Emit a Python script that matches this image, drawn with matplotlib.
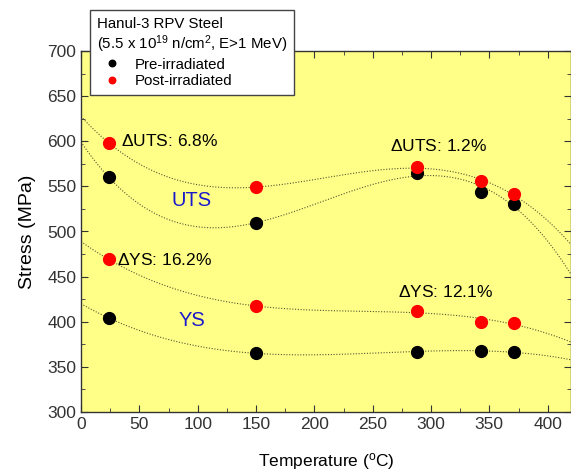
import numpy as np
import matplotlib
matplotlib.use("Agg")
import matplotlib.pyplot as plt
from matplotlib.ticker import MultipleLocator

plt.rcParams['font.family'] = ['Liberation Sans', 'DejaVu Sans']
plt.rcParams['mathtext.fontset'] = 'custom'
plt.rcParams['mathtext.rm'] = 'Liberation Sans'
plt.rcParams['mathtext.it'] = 'Liberation Sans'

## Data
temp = [24, 150, 288, 343, 371]
uts_pre = [560, 509, 565, 544, 531]
uts_post = [598, 549, 571, 556, 541]
ys_pre = [404, 365, 367, 368, 366]
ys_post = [469, 417, 412, 400, 399]

# cubic fits drawn as dotted guide lines
xfit = np.linspace(0, 420, 300)

fig = plt.figure(figsize=(5.71, 4.73), dpi=100)
ax = fig.add_axes([81 / 571, 1 - 412 / 473, 490 / 571, 361 / 473])
ax.set_facecolor('#ffff88')

for series in [uts_pre, uts_post, ys_pre, ys_post]:
    coef = np.polyfit(temp, series, 3)
    ax.plot(xfit, np.polyval(coef, xfit), linestyle=(0, (1, 1.5)), color='#555533', linewidth=0.8)

ax.plot(temp, uts_pre, 'o', color='black', markersize=8.5, label='Pre-irradiated')
ax.plot(temp, uts_post, 'o', color='red', markersize=8.5, label='Post-irradiated')
ax.plot(temp, ys_pre, 'o', color='black', markersize=8.5)
ax.plot(temp, ys_post, 'o', color='red', markersize=8.5)

# annotations
ax.text(34, 600, r'$\Delta$UTS: 6.8%', fontsize=12.5, va='center')
ax.text(265, 595, r'$\Delta$UTS: 1.2%', fontsize=12.5, va='center')
ax.text(31, 468, r'$\Delta$YS: 16.2%', fontsize=12.5, va='center')
ax.text(272, 433, r'$\Delta$YS: 12.1%', fontsize=12.5, va='center')
ax.text(95, 534, 'UTS', fontsize=14.5, color='#1a1acc', ha='center', va='center')
ax.text(95, 401, 'YS', fontsize=14.5, color='#1a1acc', ha='center', va='center')

ax.set_xlim(0, 420)
ax.set_ylim(300, 700)
ax.xaxis.set_major_locator(MultipleLocator(50))
ax.xaxis.set_minor_locator(MultipleLocator(25))
ax.yaxis.set_major_locator(MultipleLocator(50))
ax.yaxis.set_minor_locator(MultipleLocator(25))
ax.tick_params(which='both', direction='in', top=True, right=True, labelsize=12.5, colors='#333333')
ax.tick_params(which='major', length=5)
ax.tick_params(which='minor', length=3)
for s in ax.spines.values():
    s.set_color('#333333')
    s.set_linewidth(1)

ax.set_xlabel(r'Temperature ($^{\rm o}$C)', fontsize=12.5, labelpad=14)
ax.set_ylabel('Stress (MPa)', fontsize=14, labelpad=8)

leg = ax.legend(title='Hanul-3 RPV Steel\n(5.5 x 10$^{19}$ n/cm$^{2}$, E>1 MeV)',
                loc='upper left', bbox_to_anchor=(90 / 571, 1 - 10 / 473),
                bbox_transform=fig.transFigure, fontsize=10.8, title_fontsize=10.8,
                fancybox=False, framealpha=1, edgecolor='#444444',
                markerscale=0.55, handlelength=2.1, handletextpad=0.4,
                borderpad=0.45, labelspacing=0.15, borderaxespad=0)
leg._legend_box.align = 'left'
leg.get_frame().set_linewidth(1)
leg.set_zorder(10)

fig.savefig('out.png', dpi=100)
